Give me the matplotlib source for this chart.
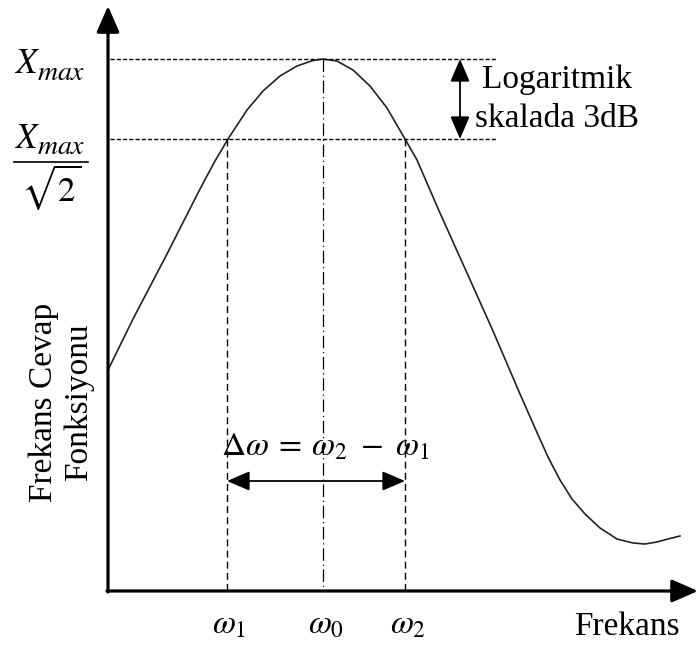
import matplotlib.pyplot as plt

# frequency response curve, traced in canvas units (x right, y down)
curve_x = [108, 133, 167, 200, 215, 228, 247, 263, 280, 297, 313, 323, 337,
           353, 370, 387, 405, 417, 440, 467, 493, 520, 535, 548, 560, 572,
           585, 600, 617, 633, 645, 657, 668, 680]
curve_y = [370, 319, 254, 189, 161, 139, 110, 91, 76, 66, 60.5, 59, 61,
           70, 86, 108, 139, 160, 213, 273, 331, 394, 428, 457, 480, 499,
           514, 528, 539, 543, 544, 542, 539, 536]

# key positions
x_axis_y = 591
y_axis_x = 108
w1, w0, w2 = 227, 323, 405
y_max, y_half = 59, 139
ref_end = 497
freq_labels = [r'$\omega_1$', r'$\omega_0$', r'$\omega_2$']
freq_pos = [w1, w0, w2]

plt.rcParams['mathtext.fontset'] = 'stix'
serif = 'Liberation Serif'

fig = plt.figure(figsize=(6.98, 6.46), dpi=100, facecolor='w')
ax = fig.add_axes([0, 0, 1, 1])
ax.set_xlim(0, 698)
ax.set_ylim(646, 0)
ax.axis('off')

# axes with arrow heads
head = '-|>,head_length=0.8,head_width=0.35'
ax.annotate('', xy=(y_axis_x, 6), xytext=(y_axis_x, x_axis_y + 1),
            arrowprops=dict(arrowstyle=head, mutation_scale=20, lw=2.3,
                            color='black', shrinkA=0, shrinkB=0))
ax.annotate('', xy=(698, x_axis_y), xytext=(y_axis_x - 1, x_axis_y),
            arrowprops=dict(arrowstyle=head, mutation_scale=20, lw=2.3,
                            color='black', shrinkA=0, shrinkB=0))

# response curve
ax.plot(curve_x, curve_y, color='#222222', lw=1.2, solid_joinstyle='round')

# reference levels
for yv in (y_max, y_half):
    ax.plot([y_axis_x + 2, ref_end], [yv, yv], color='black', lw=1.0,
            linestyle=(0, (3, 1.5)))

# cutoff and centre frequencies
for xv in (w1, w2):
    ax.plot([xv, xv], [y_half, x_axis_y], color='black', lw=1.0,
            linestyle=(0, (5, 3)))
ax.plot([w0, w0], [y_max, x_axis_y], color='black', lw=0.9,
        linestyle=(0, (10, 3, 1, 3)))

# 3 dB marker
dbl = '<|-|>,head_length=0.7,head_width=0.3'
ax.annotate('', xy=(460, y_max), xytext=(460, y_half),
            arrowprops=dict(arrowstyle=dbl, mutation_scale=20, lw=1.3,
                            color='black', shrinkA=0, shrinkB=0))
ax.text(557, 88, 'Logaritmik', family=serif, fontsize=24,
        ha='center', va='baseline')
ax.text(557, 127, 'skalada 3dB', family=serif, fontsize=24,
        ha='center', va='baseline')

# bandwidth marker
ax.annotate('', xy=(w1, 481), xytext=(w2, 481),
            arrowprops=dict(arrowstyle=dbl, mutation_scale=20, lw=1.3,
                            color='black', shrinkA=0, shrinkB=0))
ax.text(221, 455, r'$\Delta\omega\:=\:\omega_2\ -\ \omega_1$', fontsize=24,
        ha='left', va='baseline')

# y-level labels
ax.text(14, 73, r'$X$', fontsize=25, ha='left', va='baseline')
ax.text(37, 80, r'$max$', fontsize=20, ha='left', va='baseline')
ax.text(14, 148, r'$X$', fontsize=25, ha='left', va='baseline')
ax.text(37, 154, r'$max$', fontsize=20, ha='left', va='baseline')
ax.plot([14, 88], [162, 162], color='black', lw=1.2)
ax.text(51, 187, r'$\sqrt{2}$', fontsize=25, ha='center', va='center')

# frequency tick labels
for lab, xv in zip(freq_labels, freq_pos):
    ax.text(xv - 15, 633, lab, fontsize=24, ha='left', va='baseline')

ax.text(627, 635, 'Frekans', family=serif, fontsize=24,
        ha='center', va='baseline')
ax.text(61, 402, 'Frekans Cevap\nFonksiyonu', family=serif, fontsize=24,
        ha='center', va='center', rotation=90, linespacing=1.2)

fig.savefig('out.png', dpi=100, facecolor='w')
